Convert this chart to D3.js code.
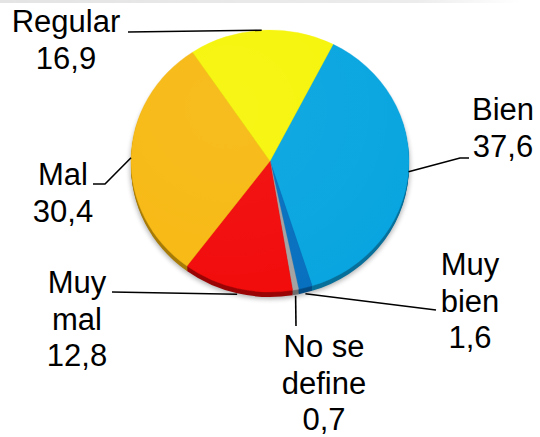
<!DOCTYPE html>
<html><head><meta charset="utf-8">
<script src="https://cdn.jsdelivr.net/npm/d3@7"></script>
<style>body{margin:0;background:#fff}svg{display:block}</style>
</head><body>
<script>
// Data
const categories = ["Bien","Muy bien","No se define","Muy mal","Mal","Regular"];
const values = [37.6,1.6,0.7,12.8,30.4,16.9];
const valueLabels = ["37,6","1,6","0,7","12,8","30,4","16,9"];
const nameLines = [["Bien"],["Muy","bien"],["No se","define"],["Muy","mal"],["Mal"],["Regular"]];
const colors = ["#08A5E0","#0770BF","#A3A3A3","#F20B0B","#F7B913","#F6F50A"];
const rimColors = ["#08709A","#054C84","#6E6E6E","#9A0505","#A87C08","#A8A505"];

// Layout
const W = 540, H = 437;
const cx = 270, cy = 161, rx = 139, ry = 131, depth = 5;
const startDeg = 27;
const fontSize = 31, lineH = 36.5;
const labelLayout = [
  {x:503, y:120, pts:[[460,158],[469,158]]},
  {x:470, y:275, pts:[[436,310]]},
  {x:324, y:357, pts:[[296,326]]},
  {x:77,  y:293, pts:[[112,292]]},
  {x:63,  y:185, pts:[[105,184],[93,184]]},
  {x:66,  y:32,  pts:[[128,32]]}
];

const svg = d3.select("body").append("svg").attr("width",W).attr("height",H);
const defs = svg.append("defs");
defs.append("filter").attr("id","blur").attr("x","-20%").attr("y","-20%").attr("width","140%").attr("height","140%")
  .append("feGaussianBlur").attr("stdDeviation",2.5);
const lg = defs.append("linearGradient").attr("id","topline").attr("x1","0").attr("x2","1");
lg.append("stop").attr("offset","0").attr("stop-color","#e4e4e4");
lg.append("stop").attr("offset","0.8").attr("stop-color","#ececec");
lg.append("stop").attr("offset","1").attr("stop-color","#fff");
const rg = defs.append("radialGradient").attr("id","shine").attr("cx","0.35").attr("cy","0.3").attr("r","0.8");
rg.append("stop").attr("offset","0").attr("stop-color","#fff").attr("stop-opacity",0.05);
rg.append("stop").attr("offset","1").attr("stop-color","#fff").attr("stop-opacity",0);

svg.append("rect").attr("x",0).attr("y",0).attr("width",520).attr("height",3).attr("fill","url(#topline)");

const pie = d3.pie().sort(null).value(d=>d)
  .startAngle(startDeg*Math.PI/180).endAngle(startDeg*Math.PI/180 + 2*Math.PI);
const arcs = pie(values);
const arc = d3.arc().innerRadius(0).outerRadius(rx);
const sy = ry/rx;

// shadow
svg.append("ellipse").attr("cx",cx).attr("cy",cy+depth+1).attr("rx",rx+1).attr("ry",ry+1)
  .attr("fill","#000").attr("opacity",0.3).attr("filter","url(#blur)");

// rim
for (let k = depth; k >= 1; k--) {
  svg.append("g").attr("transform",`translate(${cx},${cy+k}) scale(1,${sy})`)
    .selectAll("path").data(arcs).join("path")
    .attr("d",arc).attr("fill",(d,i)=>rimColors[i]);
}
// top face
const face = svg.append("g").attr("transform",`translate(${cx},${cy}) scale(1,${sy})`);
face.selectAll("path").data(arcs).join("path")
  .attr("d",arc).attr("fill",(d,i)=>colors[i])
  .attr("stroke",(d,i)=>colors[i]).attr("stroke-width",0.4);
face.append("circle").attr("r",rx).attr("fill","url(#shine)");

// labels and leaders
const lab = svg.append("g").attr("font-family","'Liberation Sans', Arial, sans-serif")
  .attr("font-size",fontSize).attr("fill","#000").attr("text-anchor","middle");
arcs.forEach((a,i)=>{
  const mid = (a.startAngle + a.endAngle)/2;
  let ax = cx + rx*Math.sin(mid), ay = cy - ry*Math.cos(mid);
  if (Math.cos(mid) < -0.5) ay += depth + 1;
  const L = labelLayout[i];
  const pts = [[ax,ay]].concat(L.pts);
  svg.append("path").attr("d", d3.line()(pts)).attr("fill","none")
    .attr("stroke","#000").attr("stroke-width",1.6);
  const lines = nameLines[i].concat([valueLabels[i]]);
  const t = lab.append("text");
  lines.forEach((s,j)=>{
    t.append("tspan").attr("x",L.x).attr("y",L.y + j*lineH).text(s);
  });
});
</script>
</body></html>
